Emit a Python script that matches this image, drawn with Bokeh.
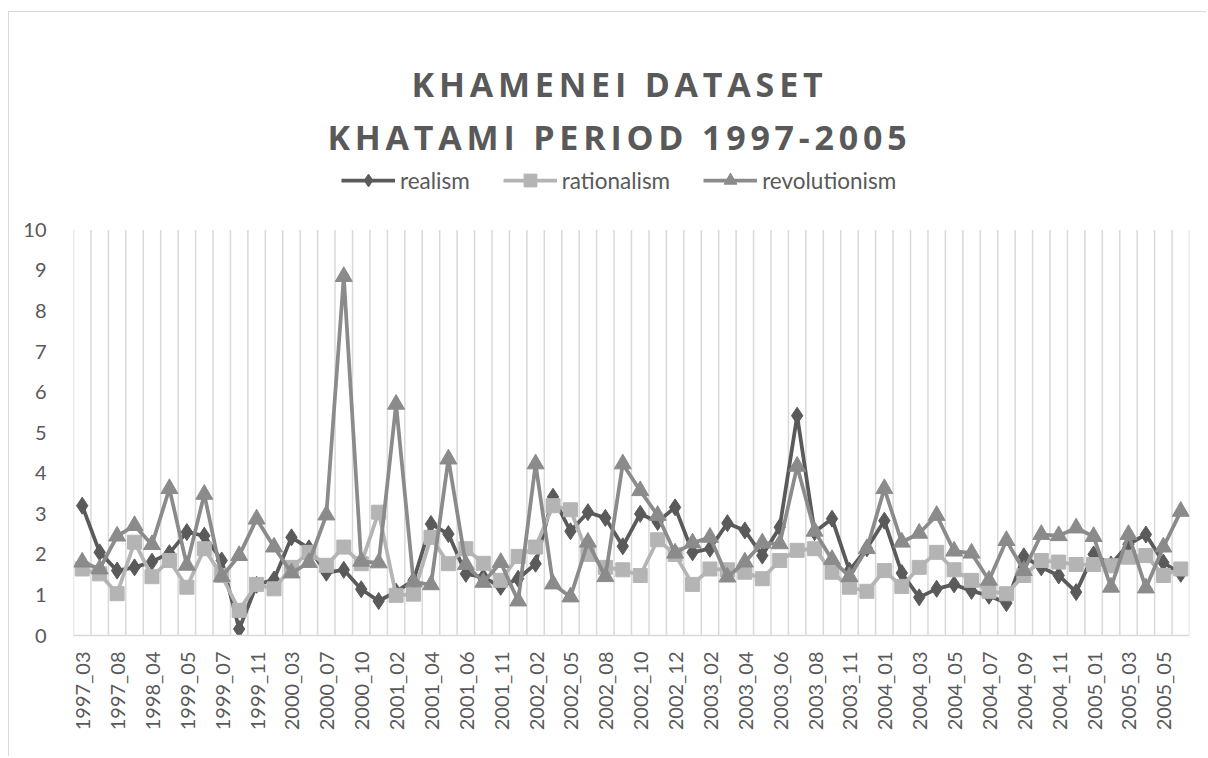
import numpy as np
from bokeh.plotting import figure
from bokeh.models import Range1d, FixedTicker, Legend, LegendItem, Div
from bokeh.layouts import column
from bokeh.embed import file_html
from bokeh.resources import INLINE

categories = [
    "1997_03", "1997_05", "1997_08", "1997_12", "1998_04", "1998_09", "1999_05", "1999_06",
    "1999_07", "1999_09", "1999_11", "2000_01", "2000_03", "2000_05", "2000_07", "2000_08",
    "2000_10", "2000_12", "2001_02", "2001_03", "2001_04", "2001_05", "2001_06", "2001_09",
    "2001_11", "2001_12", "2002_02", "2002_04", "2002_05", "2002_07", "2002_08", "2002_09",
    "2002_10", "2002_11", "2002_12", "2003_01", "2003_02", "2003_03", "2003_04", "2003_05",
    "2003_06", "2003_07", "2003_08", "2003_10", "2003_11", "2003_12", "2004_01", "2004_02",
    "2004_03", "2004_04", "2004_05", "2004_06", "2004_07", "2004_08", "2004_09", "2004_10",
    "2004_11", "2004_12", "2005_01", "2005_02", "2005_03", "2005_04", "2005_05", "2005_06",
]

realism = [
    3.2, 2.05, 1.6, 1.68, 1.82, 2.03, 2.55, 2.46, 1.85, 0.16,
    1.25, 1.38, 2.42, 2.15, 1.55, 1.62, 1.14, 0.85, 1.08, 1.36,
    2.75, 2.5, 1.52, 1.44, 1.2, 1.4, 1.77, 3.42, 2.57, 3.04,
    2.9, 2.2, 3.0, 2.8, 3.16, 2.05, 2.14, 2.77, 2.59, 1.97,
    2.67, 5.42, 2.55, 2.88, 1.6, 2.15, 2.83, 1.54, 0.94, 1.15,
    1.26, 1.1, 0.98, 0.8, 1.95, 1.68, 1.48, 1.07, 2.0, 1.75,
    2.25, 2.49, 1.8, 1.52,
]

rationalism = [
    1.64, 1.52, 1.03, 2.3, 1.45, 1.85, 1.19, 2.14, 1.48, 0.62,
    1.26, 1.15, 1.68, 2.05, 1.73, 2.18, 1.77, 3.04, 0.99, 1.02,
    2.42, 1.77, 2.14, 1.78, 1.36, 1.95, 2.18, 3.2, 3.1, 2.0,
    1.68, 1.62, 1.48, 2.36, 2.0, 1.26, 1.64, 1.62, 1.56, 1.4,
    1.85, 2.1, 2.14, 1.56, 1.19, 1.09, 1.6, 1.21, 1.68, 2.05,
    1.62, 1.36, 1.09, 1.03, 1.48, 1.85, 1.81, 1.75, 1.75, 1.72,
    1.93, 1.97, 1.48, 1.64,
]

revolutionism = [
    1.81, 1.64, 2.45, 2.71, 2.24, 3.62, 1.73, 3.48, 1.45, 1.97,
    2.87, 2.18, 1.54, 1.8, 2.97, 8.85, 1.83, 1.79, 5.7, 1.32,
    1.25, 4.35, 1.75, 1.31, 1.8, 0.85, 4.23, 1.27, 0.95, 2.3,
    1.45, 4.23, 3.57, 2.96, 2.03, 2.28, 2.42, 1.44, 1.81, 2.28,
    2.26, 4.17, 2.57, 1.87, 1.45, 2.14, 3.62, 2.3, 2.52, 2.96,
    2.08, 2.03, 1.36, 2.34, 1.6, 2.49, 2.46, 2.65, 2.44, 1.19,
    2.49, 1.17, 2.18, 3.06,
]

series_names = ["realism", "rationalism", "revolutionism"]
title_lines = ["KHAMENEI DATASET", "KHATAMI PERIOD 1997-2005"]
y_ticks = list(range(0, 11))
y_max = 10

TEXT = "#595959"
GRID = "#d9d9d9"
colors = ["#5a5a5a", "#b4b4b4", "#8b8b8b"]

W = 1197
n = len(categories)
x = list(range(n))

# ---- title block (HTML text) ----
line_style = ("width:%dpx;text-align:center;font-family:'Open Sans';font-weight:bold;"
              "font-size:34px;letter-spacing:4.8px;color:%s;line-height:53px;"
              "position:relative;left:12px;white-space:nowrap;" % (W, TEXT))
title_html = ('<div style="padding-top:46px;">'
              + "".join('<div style="%s">%s</div>' % (line_style, t) for t in title_lines)
              + "</div>")
title_div = Div(text=title_html, width=W, height=148, margin=(0, 0, 0, 0))

# ---- chart ----
# frame spans from the legend strip (top) to the value axis (bottom); value 10
# sits 405.6 px above the axis, the legend lives above it inside the frame
frame_h = 475
p = figure(width=W, height=596, output_backend="svg", toolbar_location=None,
           x_range=Range1d(-0.5, n - 0.5),
           y_range=Range1d(0, y_max * frame_h / 405.6),
           min_border_left=64, min_border_right=17, min_border_top=0,
           min_border_bottom=121, margin=(0, 0, 0, 0))
p.outline_line_color = None
p.background_fill_color = "white"
p.border_fill_color = "white"

p.xgrid.grid_line_color = None
p.ygrid.grid_line_color = None

# category separators (vertical gridlines limited to the value range 0..10)
bounds = [i - 0.5 for i in range(n + 1)]
p.segment(x0=bounds, y0=[0] * len(bounds), x1=bounds, y1=[y_max] * len(bounds),
          line_color=GRID, line_width=1.5)

p.xaxis.ticker = FixedTicker(ticks=list(range(0, n, 2)))
p.xaxis.major_label_overrides = {i: categories[i] for i in range(0, n, 2)}
p.xaxis.major_label_orientation = np.pi / 2
p.xaxis.axis_line_color = GRID
p.xaxis.axis_line_width = 1.5
p.xaxis.major_tick_line_color = None
p.xaxis.minor_tick_line_color = None
p.xaxis.major_label_standoff = 10
p.xaxis.major_label_text_font = "Lato"
p.xaxis.major_label_text_font_size = "20px"
p.xaxis.major_label_text_color = TEXT

p.yaxis.ticker = FixedTicker(ticks=y_ticks)
p.yaxis.axis_line_color = None
p.yaxis.major_tick_line_color = None
p.yaxis.minor_tick_line_color = None
p.yaxis.major_label_standoff = 21
p.yaxis.major_label_text_font = "Lato"
p.yaxis.major_label_text_font_size = "20px"
p.yaxis.major_label_text_color = TEXT

data = [realism, rationalism, revolutionism]
markers = [("diamond", 17), ("square", 14), ("triangle", 17)]
items = []
for name, vals, col, (mk, sz) in zip(series_names, data, colors, markers):
    lr = p.line(x, vals, line_color=col, line_width=3.75, line_join="round")
    sr = p.scatter(x, vals, marker=mk, size=sz, fill_color=col, line_color=col)
    items.append(LegendItem(label=name, renderers=[lr, sr]))

legend = Legend(items=items, orientation="horizontal", location=(268, 439),
                border_line_color=None, background_fill_alpha=0, padding=0, margin=0,
                spacing=33, glyph_width=54, glyph_height=32, label_height=32,
                label_standoff=5, label_text_font="Lato", label_text_font_size="22.5px",
                label_text_color=TEXT)
p.add_layout(legend)

layout = column(title_div, p, spacing=0, margin=(11, 0, 0, 8),
                styles={"border-top": "1px solid #d9d9d9", "border-left": "1px solid #d9d9d9"})

open("out.html", "w").write(file_html(layout, INLINE))
